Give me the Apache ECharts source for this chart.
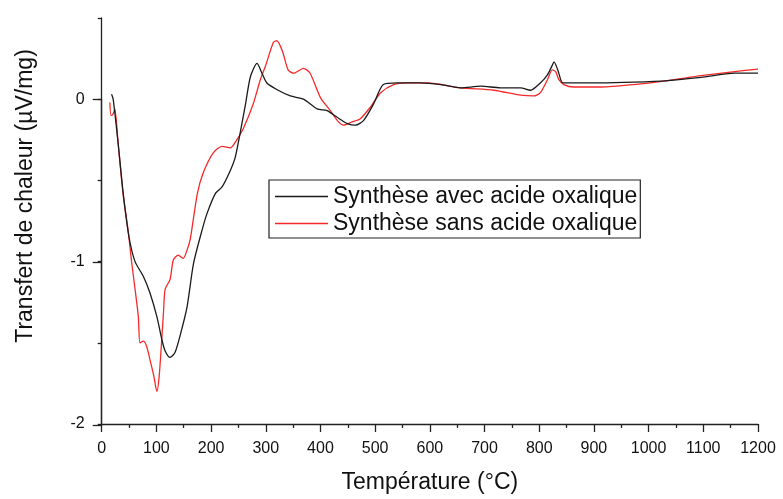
<!DOCTYPE html>
<html>
<head>
<meta charset="utf-8">
<script src="https://cdn.jsdelivr.net/npm/echarts@6/dist/echarts.min.js"></script>
<style>
  html, body { margin: 0; padding: 0; background: #fff; }
  #chart { width: 783px; height: 499px; }
</style>
</head>
<body>
<div id="chart"></div>
<script>
// DTA curves: heat flow (µV/mg) versus temperature (°C)
const seriesNames = ['Synthèse avec acide oxalique', 'Synthèse sans acide oxalique'];

const tempAvec = [18, 21, 30, 40, 50, 61, 76, 88, 101, 110,
  116, 125, 134, 143, 156, 168, 184, 193, 208, 220,
  235, 244, 253, 263, 272, 284, 293, 302, 320, 345,
  369, 394, 412, 430, 449, 464, 479, 497, 515, 540,
  583, 620, 656, 693, 729, 766, 784, 802, 815, 824,
  827, 834, 843, 858, 913, 973, 1035, 1096, 1157, 1200];
const fluxAvec = [0.03, 0.0, -0.27, -0.6, -0.85, -1.0, -1.09, -1.19, -1.34, -1.48,
  -1.55, -1.59, -1.56, -1.46, -1.28, -1.01, -0.80, -0.70, -0.58, -0.54,
  -0.44, -0.36, -0.21, -0.03, 0.14, 0.22, 0.16, 0.10, 0.06, 0.02,
  0.0, -0.06, -0.07, -0.11, -0.15, -0.16, -0.13, -0.03, 0.09, 0.10,
  0.10, 0.09, 0.07, 0.08, 0.07, 0.07, 0.055, 0.10, 0.15, 0.21,
  0.23, 0.18, 0.10, 0.10, 0.10, 0.105, 0.115, 0.135, 0.16, 0.16];

const tempSans = [15, 17, 21, 24, 30, 39, 48, 55, 61, 67,
  70, 76, 82, 88, 95, 101, 105, 109, 113, 116,
  125, 131, 140, 149, 156, 162, 175, 186, 204, 220,
  235, 247, 259, 277, 290, 299, 314, 320, 330, 341,
  351, 369, 381, 400, 418, 433, 442, 458, 473, 491,
  510, 534, 559, 596, 656, 717, 766, 790, 802, 815,
  824, 830, 836, 845, 863, 913, 973, 1035, 1096, 1157, 1200];
const fluxSans = [-0.02, -0.10, -0.09, -0.06, -0.27, -0.58, -0.80, -1.01, -1.17, -1.34,
  -1.50, -1.49, -1.52, -1.60, -1.70, -1.80, -1.71, -1.52, -1.31, -1.17,
  -1.11, -0.99, -0.96, -0.98, -0.93, -0.86, -0.58, -0.45, -0.33, -0.29,
  -0.30, -0.25, -0.18, -0.03, 0.12, 0.20, 0.35, 0.36, 0.30, 0.18,
  0.16, 0.19, 0.16, 0.01, -0.07, -0.14, -0.16, -0.14, -0.12, -0.05,
  0.04, 0.09, 0.10, 0.10, 0.07, 0.055, 0.025, 0.02, 0.04, 0.12,
  0.18, 0.17, 0.12, 0.09, 0.075, 0.075, 0.09, 0.115, 0.145, 0.17, 0.185];

const xMin = 0, xMax = 1200, xStep = 100;
const yMin = -2, yMax = 0.5, yStep = 1;

const pairs = (xs, ys) => xs.map((x, i) => [x, ys[i]]);

const FONT = "'Liberation Sans', Arial, sans-serif";
const AXIS_COLOR = '#222';
const COLOR_AVEC = '#1a1a1a';
const COLOR_SANS = '#f42a2a';

const chart = echarts.init(document.getElementById('chart'), null, { renderer: 'canvas' });

// plot area geometry
const gridLeft = 101.7, gridRight = 25, gridTop = 18, gridBottom = 74;
const plotH = 499 - gridTop - gridBottom;
// second grid carries the long (major) y ticks only, ending at y = 0
const majorTop = gridTop + plotH * (yMax - 0) / (yMax - yMin);

chart.setOption({
  animation: false,
  backgroundColor: '#fff',
  grid: [
    { left: gridLeft, right: gridRight, top: gridTop, bottom: gridBottom },
    { left: gridLeft, right: gridRight, top: majorTop, bottom: gridBottom }
  ],
  legend: {
    orient: 'vertical',
    left: 269,
    top: 180,
    padding: [5, 3, 3, 6],
    itemGap: 4,
    itemWidth: 53,
    itemHeight: 1.6,
    icon: 'rect',
    borderColor: '#222',
    borderWidth: 1.2,
    backgroundColor: '#fff',
    textStyle: { fontFamily: FONT, fontSize: 23, color: '#111', lineHeight: 23 },
    data: seriesNames
  },
  xAxis: [
    {
      gridIndex: 0,
      type: 'value',
      min: xMin, max: xMax, interval: xStep,
      splitLine: { show: false },
      axisLine: { onZero: false, lineStyle: { color: AXIS_COLOR, width: 1.3 } },
      axisTick: { length: 8, inside: false, lineStyle: { color: AXIS_COLOR, width: 1.3 } },
      minorTick: { show: true, splitNumber: 2, length: 4, lineStyle: { color: AXIS_COLOR, width: 1.3 } },
      axisLabel: { fontFamily: FONT, fontSize: 16, color: '#111', margin: 17, formatter: v => String(v) },
      name: 'Température (°C)',
      nameLocation: 'middle',
      nameGap: 47,
      nameTextStyle: { fontFamily: FONT, fontSize: 23, color: '#111' }
    },
    {
      gridIndex: 1,
      type: 'value',
      min: xMin, max: xMax,
      show: false
    }
  ],
  yAxis: [
    {
      gridIndex: 0,
      type: 'value',
      min: yMin, max: yMax, interval: 0.5,
      splitLine: { show: false },
      axisLine: { show: true, onZero: false, lineStyle: { color: AXIS_COLOR, width: 1.3 } },
      axisTick: { show: true, length: 4, lineStyle: { color: AXIS_COLOR, width: 1.3 } },
      axisLabel: {
        fontFamily: FONT, fontSize: 16, color: '#111', margin: 17,
        formatter: v => (Number.isInteger(v) ? String(v) : '')
      }
    },
    {
      gridIndex: 1,
      type: 'value',
      min: yMin, max: 0, interval: yStep,
      splitLine: { show: false },
      axisLine: { show: true, onZero: false, lineStyle: { color: AXIS_COLOR, width: 1.3 } },
      axisTick: { show: true, length: 9, lineStyle: { color: AXIS_COLOR, width: 1.3 } },
      axisLabel: { show: false }
    }
  ],
  graphic: [
    {
      type: 'text',
      x: 26,
      y: 196,
      rotation: Math.PI / 2,
      style: {
        text: 'Transfert de chaleur (µV/mg)',
        fontFamily: FONT,
        fontSize: 23,
        fill: '#111',
        align: 'center',
        verticalAlign: 'middle'
      }
    }
  ],
  series: [
    {
      name: seriesNames[0],
      type: 'line',
      xAxisIndex: 0, yAxisIndex: 0,
      data: pairs(tempAvec, fluxAvec),
      showSymbol: false,
      symbol: 'none',
      smooth: 0.25,
      lineStyle: { color: COLOR_AVEC, width: 1.3 },
      itemStyle: { color: COLOR_AVEC },
      z: 3
    },
    {
      name: seriesNames[1],
      type: 'line',
      xAxisIndex: 0, yAxisIndex: 0,
      data: pairs(tempSans, fluxSans),
      showSymbol: false,
      symbol: 'none',
      smooth: 0.25,
      lineStyle: { color: COLOR_SANS, width: 1.3 },
      itemStyle: { color: COLOR_SANS },
      z: 2
    }
  ]
});
</script>
</body>
</html>
